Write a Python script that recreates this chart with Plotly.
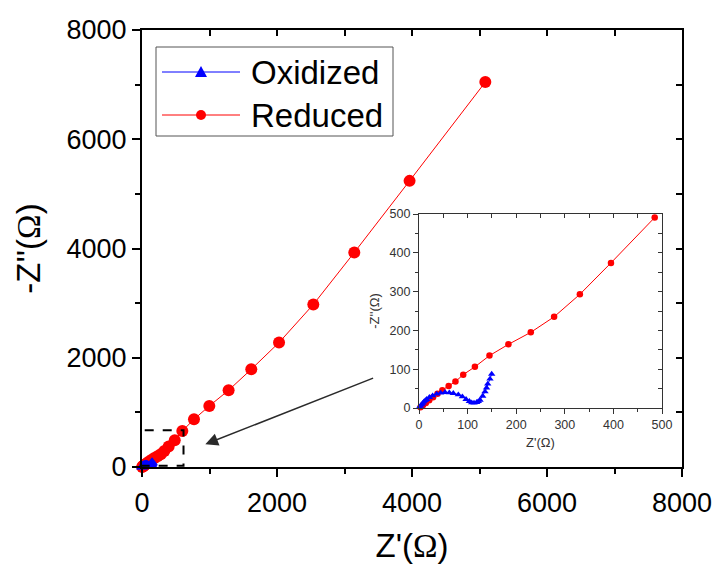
import plotly.graph_objects as go

# ---------------- data ----------------
# Oxidized electrode: Nyquist points, Z' and -Z'' in ohm
ox_zre = [0.7, 3, 5.5, 8, 10.3, 13, 15.8, 21.3, 28.1, 36.4, 44.6, 53.5, 62.4, 70.6,
          80.9, 89.2, 96.8, 103.6, 108.4, 113.2, 118.7, 122, 125.5, 131.1, 135.8,
          139, 141.4, 146, 149.6]
ox_zim = [1.7, 5, 8.6, 12.5, 16.3, 19.5, 22.3, 27.5, 31.8, 36.1, 38.7, 40.4, 39.5, 37.8,
          34.4, 29.2, 22.3, 17.2, 13.7, 12.9, 14.6, 17, 20.6, 30.9, 42,
          52, 61.9, 75, 87.6]

# Reduced electrode: Nyquist points, Z' and -Z'' in ohm
red_zre = [3, 8, 14, 21, 29, 38, 48, 61, 75, 91, 115, 145, 184, 230, 278, 331, 395, 485,
           597, 770, 997, 1283, 1619, 2030, 2538, 3145, 3964, 5086]
red_zim = [2, 7, 13, 20, 28, 37, 46, 57, 68, 86, 106, 135, 164, 195, 235, 293, 374, 491,
           659, 873, 1117, 1405, 1789, 2278, 2975, 3927, 5238, 7046]

series_names = ["Oxidized", "Reduced"]
main_ticks = [0, 2000, 4000, 6000, 8000]
inset_ticks = [0, 100, 200, 300, 400, 500]
inset_limit = 500

# zoomed window marked on the main plot and the arrow pointing to it
zoom_box = dict(x0=-20, x1=615, y0=25, y1=672)
arrow_tail = (3446, 1637)
arrow_tip = (938, 416)

# ---------------- layout helpers ----------------
W, H = 713, 564
L, R, T, B = 142, 682, 30, 467          # main plot area in pixels
PW, PH = R - L, B - T


def fx(p):
    return (p - L) / PW


def fy(p):
    return (B - p) / PH


SANS = "Liberation Sans, Arial, sans-serif"
OMEGA = '<span style="font-family:Liberation Serif, Times New Roman, serif">Ω</span>'

BLUE = "#0000ff"
RED = "#ff0000"

fig = go.Figure()

# main plot traces (blue drawn last so it sits on top near the origin)
fig.add_trace(go.Scatter(
    x=red_zre, y=red_zim, name=series_names[1], mode="lines+markers",
    line=dict(color=RED, width=1),
    marker=dict(symbol="circle", size=12, color=RED),
    cliponaxis=False, xaxis="x", yaxis="y"))
fig.add_trace(go.Scatter(
    x=ox_zre, y=ox_zim, name=series_names[0], mode="lines+markers",
    line=dict(color=BLUE, width=1),
    marker=dict(symbol="triangle-up", size=10, color=BLUE),
    cliponaxis=False, xaxis="x", yaxis="y"))

# inset traces (low-impedance region)
red_in = [(a, b) for a, b in zip(red_zre, red_zim) if a <= inset_limit]
fig.add_trace(go.Scatter(
    x=[p[0] for p in red_in], y=[p[1] for p in red_in], mode="lines+markers",
    line=dict(color=RED, width=1), marker=dict(symbol="circle", size=6.5, color=RED),
    showlegend=False, cliponaxis=False, xaxis="x2", yaxis="y2"))
fig.add_trace(go.Scatter(
    x=ox_zre, y=ox_zim, mode="lines+markers",
    line=dict(color=BLUE, width=1),
    marker=dict(symbol="triangle-up", size=6.5, color=BLUE),
    showlegend=False, cliponaxis=False, xaxis="x2", yaxis="y2"))

# empty traces so the mirrored (inside-tick) axes get drawn
fig.add_trace(go.Scatter(x=[None], y=[None], xaxis="x3", yaxis="y3",
                         showlegend=False, hoverinfo="skip"))
fig.add_trace(go.Scatter(x=[None], y=[None], xaxis="x4", yaxis="y4",
                         showlegend=False, hoverinfo="skip"))

main_axis = dict(
    range=[0, 8000], tickvals=main_ticks, ticks="outside", ticklen=8, tickwidth=1.5,
    showline=True, linewidth=2, linecolor="black", mirror=True, automargin=False,
    showgrid=False, zeroline=False, tickcolor="black",
    tickfont=dict(family=SANS, size=27, color="black"),
    minor=dict(ticks="outside", ticklen=5, tickwidth=1.5, dtick=1000,
               tickcolor="black", showgrid=False),
)
inset_axis = dict(
    range=[0, inset_limit], tickvals=inset_ticks, ticks="outside", ticklen=5, tickwidth=1,
    showline=True, linewidth=1.3, linecolor="#333333", mirror=True, automargin=False,
    showgrid=False, zeroline=False, tickcolor="#333333",
    tickfont=dict(family=SANS, size=12.5, color="#333333"),
    minor=dict(ticks="outside", ticklen=3, tickwidth=1, dtick=50,
               tickcolor="#333333", showgrid=False),
)
main_mirror = dict(range=[0, 8000], ticks="inside", ticklen=6, tickwidth=1.5,
                   tickcolor="black", dtick=1000, showticklabels=False, automargin=False,
                   showgrid=False, zeroline=False, showline=False)
inset_mirror = dict(range=[0, inset_limit], ticks="inside", ticklen=4, tickwidth=1,
                    tickcolor="#333333", dtick=50, showticklabels=False, automargin=False,
                    showgrid=False, zeroline=False, showline=False)

ix0, ix1 = fx(419), fx(662)
iy0, iy1 = fy(408), fy(214)

fig.update_layout(
    width=W, height=H, margin=dict(l=L, r=W - R, t=T, b=H - B, autoexpand=False),
    paper_bgcolor="white", plot_bgcolor="white", showlegend=False,
    font=dict(family=SANS, color="black"),
    xaxis=dict(**main_axis, domain=[0, 1], anchor="y", ticklabelstandoff=3,
               title=dict(text="Z'(" + OMEGA + ")", standoff=18,
                          font=dict(family=SANS, size=33, color="black"))),
    yaxis=dict(**main_axis, domain=[0, 1], anchor="x",
               title=dict(text="-Z''(" + OMEGA + ")", standoff=16,
                          font=dict(family=SANS, size=33, color="black"))),
    xaxis3=dict(**main_mirror, overlaying="x", side="top", anchor="y3"),
    yaxis3=dict(**main_mirror, overlaying="y", side="right", anchor="x3"),
    xaxis2=dict(**inset_axis, domain=[ix0, ix1], anchor="y2",
                title=dict(text="Z'(Ω)", standoff=6,
                           font=dict(family=SANS, size=13, color="#333333"))),
    yaxis2=dict(**inset_axis, domain=[iy0, iy1], anchor="x2",
                title=dict(text="-Z''(Ω)", standoff=6,
                           font=dict(family=SANS, size=13, color="#333333"))),
    xaxis4=dict(**inset_mirror, overlaying="x2", side="top", anchor="y4"),
    yaxis4=dict(**inset_mirror, overlaying="y2", side="right", anchor="x4"),
)

# dashed window around the zoomed region
fig.add_shape(type="rect", xref="x", yref="y", **zoom_box,
              line=dict(color="black", width=2, dash="dash"), layer="above")

# arrow from the inset to the zoomed window
fig.add_annotation(x=arrow_tip[0], y=arrow_tip[1], ax=arrow_tail[0], ay=arrow_tail[1],
                   xref="x", yref="y", axref="x", ayref="y", text="",
                   showarrow=True, arrowhead=2, arrowsize=1.7, arrowwidth=1.5,
                   arrowcolor="#2a2a2a")

# legend box with line + marker samples
fig.add_shape(type="rect", xref="paper", yref="paper",
              x0=fx(156), x1=fx(393), y0=fy(136), y1=fy(47),
              line=dict(color="#555555", width=1), fillcolor="white", layer="above")
legend_rows = [(72, BLUE, "triangle"), (115, RED, "circle")]
for (ypx, col, kind), label in zip(legend_rows, series_names):
    fig.add_shape(type="line", xref="paper", yref="paper",
                  x0=fx(162), x1=fx(240), y0=fy(ypx), y1=fy(ypx),
                  line=dict(color=col, width=1), layer="above")
    if kind == "circle":
        fig.add_shape(type="circle", xref="paper", yref="paper",
                      xsizemode="pixel", ysizemode="pixel",
                      xanchor=fx(201), yanchor=fy(ypx),
                      x0=-5, x1=5, y0=-5, y1=5,
                      fillcolor=col, line=dict(color=col, width=0), layer="above")
    else:
        fig.add_shape(type="path", xref="paper", yref="paper",
                      xsizemode="pixel", ysizemode="pixel",
                      xanchor=fx(201), yanchor=fy(ypx),
                      path="M -6,-5 L 6,-5 L 0,6 Z",
                      fillcolor=col, line=dict(color=col, width=0), layer="above")
    fig.add_annotation(x=fx(249), y=fy(ypx), xref="paper", yref="paper",
                       xanchor="left", yanchor="middle", showarrow=False,
                       text=label, font=dict(family=SANS, size=33, color="black"))

fig.write_html("out.html")
